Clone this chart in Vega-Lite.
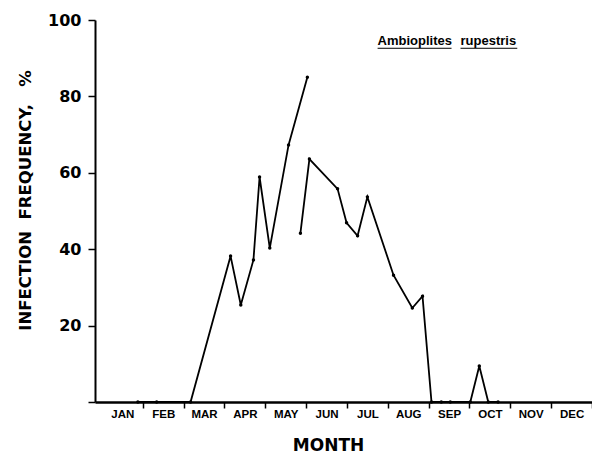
{
  "$schema": "https://vega.github.io/schema/vega-lite/v6.json",
  "autosize": "none",
  "width": 497,
  "height": 382,
  "padding": {"left": 95, "top": 20, "right": 0, "bottom": 53},
  "background": "white",
  "config": {"view": {"stroke": null}, "font": "Liberation Sans"},
  "layer": [
    {
      "data": {"values": [
        {"segment": "A", "month": 0.88, "value": 0},
        {"segment": "A", "month": 1.34, "value": 0},
        {"segment": "A", "month": 2.17, "value": 0},
        {"segment": "A", "month": 3.15, "value": 38.2},
        {"segment": "A", "month": 3.40, "value": 25.4},
        {"segment": "A", "month": 3.71, "value": 37.2},
        {"segment": "A", "month": 3.86, "value": 58.9},
        {"segment": "A", "month": 4.11, "value": 40.3},
        {"segment": "A", "month": 4.57, "value": 67.3},
        {"segment": "A", "month": 5.03, "value": 85.0},
        {"segment": "B", "month": 4.86, "value": 44.2},
        {"segment": "B", "month": 5.08, "value": 63.6},
        {"segment": "B", "month": 5.77, "value": 55.8},
        {"segment": "B", "month": 5.99, "value": 46.9},
        {"segment": "B", "month": 6.26, "value": 43.5},
        {"segment": "B", "month": 6.50, "value": 53.7},
        {"segment": "B", "month": 7.14, "value": 33.2},
        {"segment": "B", "month": 7.60, "value": 24.6},
        {"segment": "B", "month": 7.85, "value": 27.7},
        {"segment": "B", "month": 8.07, "value": 0},
        {"segment": "B", "month": 8.31, "value": 0},
        {"segment": "B", "month": 8.53, "value": 0},
        {"segment": "B", "month": 9.02, "value": 0},
        {"segment": "B", "month": 9.24, "value": 9.4},
        {"segment": "B", "month": 9.46, "value": 0},
        {"segment": "B", "month": 9.70, "value": 0}
      ]},
      "mark": {"type": "line", "color": "black", "strokeWidth": 1.8, "point": {"filled": true, "size": 12, "color": "black"}},
      "encoding": {
        "detail": {"field": "segment"},
        "x": {
          "field": "month", "type": "quantitative",
          "scale": {"domain": [-0.17, 12], "nice": false, "zero": false},
          "axis": {
            "title": "MONTH",
            "values": [0.5, 1.5, 2.5, 3.5, 4.5, 5.5, 6.5, 7.5, 8.5, 9.5, 10.5, 11.5],
            "labelExpr": "['JAN','FEB','MAR','APR','MAY','JUN','JUL','AUG','SEP','OCT','NOV','DEC'][floor(datum.value)]",
            "tickOffset": 20.4,
            "labelOffset": -20.4,
            "tickSize": 6,
            "tickWidth": 1.5,
            "tickColor": "black",
            "domainColor": "black",
            "domainWidth": 2.5,
            "labelFont": "Liberation Sans",
            "labelFontSize": 11.5,
            "labelFontWeight": "bold",
            "labelColor": "black",
            "labelPadding": 0,
            "labelOverlap": false,
            "labelFlush": false,
            "grid": false,
            "titleFont": "DejaVu Sans",
            "titleFontSize": 17,
            "titleFontWeight": "bold",
            "titleColor": "black",
            "titleX": 233,
            "titleY": 43,
            "titleBaseline": "middle"
          }
        },
        "y": {
          "field": "value", "type": "quantitative",
          "scale": {"domain": [0, 100], "nice": false},
          "axis": {
            "title": "INFECTION\u00a0 FREQUENCY,\u00a0\u00a0 %",
            "values": [0, 10, 20, 30, 40, 50, 60, 70, 80, 90, 100],
            "labelExpr": "datum.value % 20 == 0 && datum.value > 0 ? datum.label : ''",
            "tickSize": {"condition": {"test": "datum.value % 20 == 0", "value": 7}, "value": 3},
            "tickColor": "black",
            "tickWidth": 1.5,
            "domainColor": "black",
            "domainWidth": 2,
            "labelFont": "DejaVu Sans",
            "labelFontSize": 16,
            "labelFontWeight": "bold",
            "labelColor": "black",
            "labelPadding": 7,
            "grid": false,
            "titleFont": "DejaVu Sans",
            "titleFontSize": 16.5,
            "titleFontWeight": "bold",
            "titleColor": "black",
            "titleX": -70,
            "titleY": 180,
            "titleAlign": "center",
            "titleBaseline": "middle"
          }
        }
      }
    },
    {
      "data": {"values": [
        {"word": "Ambioplites", "month": 6.75, "value": 93.5},
        {"word": "rupestris", "month": 8.78, "value": 93.5}
      ]},
      "mark": {"type": "text", "align": "left", "baseline": "alphabetic", "fontSize": 13, "fontWeight": "bold", "font": "Liberation Sans", "color": "black"},
      "encoding": {
        "x": {"field": "month", "type": "quantitative"},
        "y": {"field": "value", "type": "quantitative"},
        "text": {"field": "word"}
      }
    },
    {
      "data": {"values": [
        {"month": 6.75, "month2": 8.56, "value": 92.6},
        {"month": 8.78, "month2": 10.17, "value": 92.6}
      ]},
      "mark": {"type": "rule", "color": "black", "strokeWidth": 1},
      "encoding": {
        "x": {"field": "month", "type": "quantitative"},
        "x2": {"field": "month2"},
        "y": {"field": "value", "type": "quantitative"}
      }
    }
  ]
}
